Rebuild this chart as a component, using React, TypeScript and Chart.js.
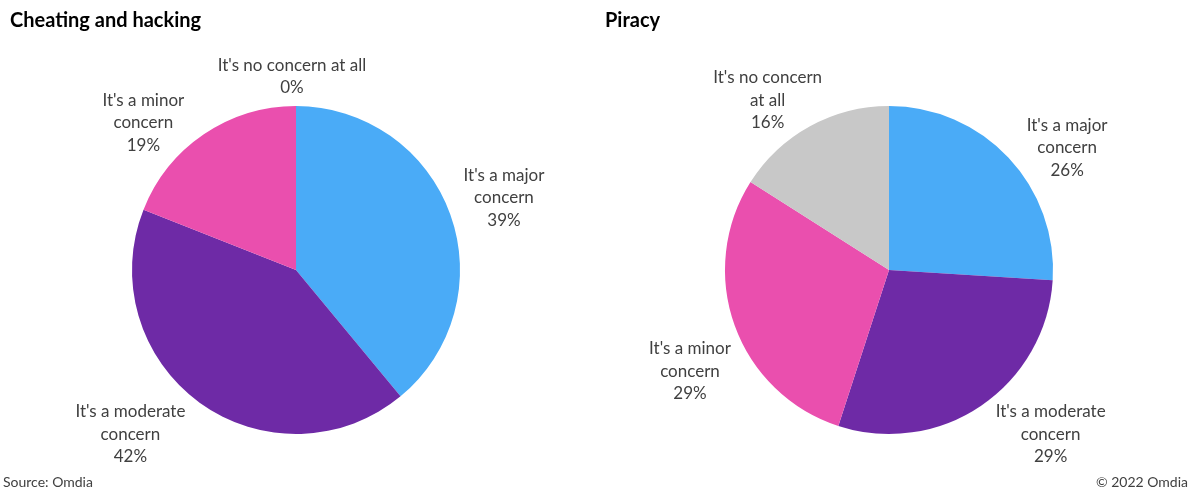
import React, { useEffect, useRef } from "react";
import { Chart, registerables } from "chart.js";

Chart.register(...registerables);

// ---- data ----
const categories = ["It's a major concern", "It's a moderate concern", "It's a minor concern", "It's no concern at all"];
const cheatingValues = [39, 42, 19, 0];
const piracyValues = [26, 29, 29, 16];
const cheatingTitle = "Cheating and hacking";
const piracyTitle = "Piracy";
const cheatingLabelLines = [
  ["It's a major", "concern"],
  ["It's a moderate", "concern"],
  ["It's a minor", "concern"],
  ["It's no concern at all"],
];
const piracyLabelLines = [
  ["It's a major", "concern"],
  ["It's a moderate", "concern"],
  ["It's a minor", "concern"],
  ["It's no concern", "at all"],
];
const sourceText = "Source: Omdia";
const copyrightText = "\u00A9 2022 Omdia";

// ---- styles / layout ----
const colors = ["#4AABF7", "#6E2AA6", "#EA4FAE", "#C8C8C8"];
const FONT = "Lato, 'Noto Sans', sans-serif";
// label placement in polar form relative to pie (angle deg clockwise from top, distance in radii)
const cheatingLabelPos = [
  { a: 70.9, d: 1.342 },
  { a: 225.2, d: 1.423 },
  { a: 314, d: 1.294 },
  { a: 358.8, d: 1.18 },
];
const piracyLabelPos = [
  { a: 55.5, d: 1.318 },
  { a: 135.5, d: 1.406 },
  { a: 243, d: 1.362 },
  { a: 324.4, d: 1.271 },
];

function labelPlugin(lines: string[][], pos: { a: number; d: number }[], values: number[]) {
  return {
    id: "sliceLabels",
    afterDraw(chart: any) {
      const ctx = chart.ctx;
      const meta = chart.getDatasetMeta(0);
      const arc0 = meta.data[0];
      if (!arc0) return;
      const cx = arc0.x;
      const cy = arc0.y;
      const r = arc0.outerRadius;
      ctx.save();
      ctx.font = `17px ${FONT}`;
      ctx.fillStyle = "#404040";
      ctx.textAlign = "center";
      ctx.textBaseline = "middle";
      const lh = 22.5;
      values.forEach((v, i) => {
        const p = pos[i];
        const rad = (p.a * Math.PI) / 180;
        const x = cx + Math.sin(rad) * r * p.d;
        const y = cy - Math.cos(rad) * r * p.d;
        const all = [...lines[i], `${v}%`];
        const top = y - ((all.length - 1) * lh) / 2;
        all.forEach((t, k) => ctx.fillText(t, x, top + k * lh));
      });
      ctx.restore();
    },
  };
}

function PieChart(props: {
  values: number[];
  lines: string[][];
  pos: { a: number; d: number }[];
  padding: { left: number; right: number; top: number; bottom: number };
}) {
  const ref = useRef<HTMLCanvasElement>(null);
  useEffect(() => {
    if (!ref.current) return;
    const chart = new Chart(ref.current, {
      type: "pie",
      data: {
        labels: categories,
        datasets: [
          {
            data: props.values,
            backgroundColor: colors,
            borderWidth: 0,
          },
        ],
      },
      options: {
        animation: false,
        responsive: false,
        maintainAspectRatio: false,
        layout: { padding: props.padding },
        plugins: {
          legend: { display: false },
          tooltip: { enabled: false },
          title: { display: false },
        },
      },
      plugins: [labelPlugin(props.lines, props.pos, props.values)],
    });
    return () => chart.destroy();
  }, []);
  return <canvas ref={ref} width={598} height={491} style={{ display: "block", width: 598, height: 491 }} />;
}

export default function App() {
  useEffect(() => {
    document.body.style.margin = "0";
  }, []);
  const titleStyle: React.CSSProperties = {
    position: "absolute",
    top: 7,
    fontFamily: FONT,
    fontWeight: "bold",
    fontSize: 20,
    color: "#000",
    whiteSpace: "nowrap",
  };
  const footStyle: React.CSSProperties = {
    position: "absolute",
    top: 473,
    fontFamily: FONT,
    fontSize: 14,
    color: "#404040",
    whiteSpace: "nowrap",
  };
  return (
    <div style={{ position: "relative", width: 1196, height: 491, background: "#fff", overflow: "hidden" }}>
      <div style={{ position: "absolute", left: 0, top: 0 }}>
        <PieChart
          values={cheatingValues}
          lines={cheatingLabelLines}
          pos={cheatingLabelPos}
          padding={{ left: 132, right: 138, top: 106, bottom: 57 }}
        />
      </div>
      <div style={{ position: "absolute", left: 598, top: 0 }}>
        <PieChart
          values={piracyValues}
          lines={piracyLabelLines}
          pos={piracyLabelPos}
          padding={{ left: 127, right: 143, top: 106, bottom: 57 }}
        />
      </div>
      <div style={{ ...titleStyle, left: 10 }}>{cheatingTitle}</div>
      <div style={{ ...titleStyle, left: 605 }}>{piracyTitle}</div>
      <div style={{ ...footStyle, left: 3 }}>{sourceText}</div>
      <div style={{ ...footStyle, right: 8 }}>{copyrightText}</div>
    </div>
  );
}
